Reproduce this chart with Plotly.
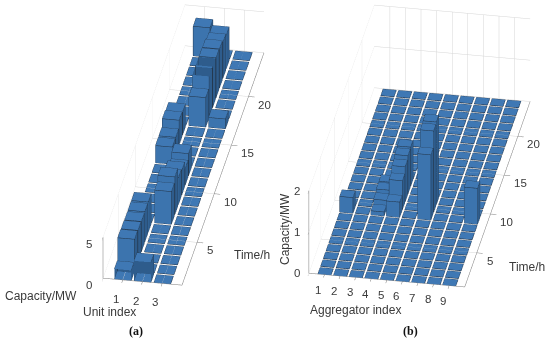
import math
import plotly.graph_objects as go

hours = list(range(1, 25))
units = [1, 2, 3]
aggregators = list(range(1, 10))

# Capacity (MW) per unit, one value per hour
unit_1 = [1.25, 3.9, 3.8, 3.7, 3.7, 3.7, 0, 0, 0, 0, 0, 0, 2.1, 2.1, 3.0, 2.8, 0, 0, 0, 0, 0, 0, 0, 3.6]
unit_2 = [2.45, 0, 0, 0, 0, 0, 4.0, 4.6, 3.3, 3.0, 2.05, 2.7, 0, 0, 0, 0, 3.6, 5.05, 5.05, 4.9, 4.8, 4.4, 4.1, 0]
unit_3 = [0, 0, 0, 0, 0, 0, 0, 0, 0, 0, 0, 0, 0, 0, 0, 0, 1.2, 0, 0, 0, 0, 0, 0, 0]

# Capacity (MW) per aggregator, one value per hour
agg_1 = [0, 0, 0, 0, 0, 0, 0, 0, 0.38, 0, 0, 0, 0, 0, 0, 0, 0, 0, 0, 0, 0, 0, 0, 0]
agg_2 = [0] * 24
agg_3 = [0, 0, 0, 0, 0, 0, 0, 0, 0.1, 0.19, 0.25, 0.25, 0, 0, 0, 0, 0, 0, 0, 0, 0, 0, 0, 0]
agg_4 = [0, 0, 0, 0, 0, 0, 0, 0, 0.37, 0.7, 0.85, 0.93, 0.95, 0, 0, 0, 0, 0, 0, 0, 0, 0, 0, 0]
agg_5 = [0] * 24
agg_6 = [0, 0, 0, 0, 0, 0, 0, 0, 1.58, 1.97, 2.0, 0, 0, 0, 0, 0, 0, 0, 0, 0, 0, 0, 0, 0]
agg_7 = [0] * 24
agg_8 = [0] * 24
agg_9 = [0, 0, 0, 0, 0, 0, 0, 0, 0.87, 0, 0, 0, 0, 0, 0, 0, 0, 0, 0, 0, 0, 0, 0, 0]

time_ticks = [5, 10, 15, 20]
unit_ticks = [1, 2, 3]
agg_ticks = [1, 2, 3, 4, 5, 6, 7, 8, 9]
z_ticks_a = [0, 5]
z_ticks_b = [0, 1, 2]

TOP = "#3f78b4"
FRONT = "#3c74ae"
SIDE = "#2e5c8c"
EDGE = "#1f2d3d"
TXT = "#3a3a3a"
W = 0.425
H = 0.425


def bars(cols, xvals, scene):
    vx, vy, vz, ii, jj, kk, fc = [], [], [], [], [], [], []
    lx, ly, lz = [], [], []
    quads = [((0, 1, 2, 3), TOP), ((4, 5, 6, 7), TOP), ((0, 1, 5, 4), FRONT),
             ((1, 2, 6, 5), SIDE), ((2, 3, 7, 6), SIDE), ((3, 0, 4, 7), SIDE)]
    for x, col in zip(xvals, cols):
        for y, h in zip(hours, col):
            n = len(vx)
            z0, z1 = 0, max(h, 0.002)
            for zz in (z0, z1):
                for dx, dy in ((-W, -H), (W, -H), (W, H), (-W, H)):
                    vx.append(x + dx)
                    vy.append(y + dy)
                    vz.append(zz)
            for (a, b, c, d), color in quads:
                ii += [n + a, n + a]
                jj += [n + b, n + c]
                kk += [n + c, n + d]
                fc += [color, color]
            for loop in ((0, 1, 2, 3, 0), (4, 5, 6, 7, 4)):
                for p in loop:
                    lx.append(vx[n + p]); ly.append(vy[n + p]); lz.append(vz[n + p])
                lx.append(None); ly.append(None); lz.append(None)
            for p in range(4):
                for q in (p, p + 4):
                    lx.append(vx[n + q]); ly.append(vy[n + q]); lz.append(vz[n + q])
                lx.append(None); ly.append(None); lz.append(None)
    return [
        go.Mesh3d(x=vx, y=vy, z=vz, i=ii, j=jj, k=kk, facecolor=fc, flatshading=True,
                  lighting=dict(ambient=1, diffuse=0, specular=0, fresnel=0),
                  hoverinfo="skip", showscale=False, scene=scene),
        go.Scatter3d(x=lx, y=ly, z=lz, mode="lines", line=dict(color=EDGE, width=1),
                     hoverinfo="skip", showlegend=False, scene=scene),
    ]


def axis(rng, tickvals, ticklen=6):
    return dict(range=rng, tickmode="array", tickvals=tickvals, showticklabels=False,
                ticks="outside", ticklen=ticklen, tickcolor="#7a7a7a", showgrid=True,
                gridcolor="#d6d6d6", gridwidth=1, zeroline=False, showline=True,
                linecolor="#7a7a7a", linewidth=1, showbackground=False, showspikes=False,
                title=dict(text=""))


def tick_notes(xt, yt, zt, xr, yr, zr, xshift_x, yshift_x, zs):
    out = []
    base = dict(showarrow=False, font=dict(family="Liberation Sans", size=11.5, color=TXT))
    for v in xt:
        out.append(dict(x=v, y=yr[0], z=0, text=str(v), xshift=xshift_x, yshift=yshift_x, **base))
    for v in yt:
        out.append(dict(x=xr[1], y=v, z=0, text=str(v), xshift=13 if v < 10 else 16, yshift=-8, **base))
    for v in zt:
        out.append(dict(x=xr[0], y=yr[0], z=v, text=str(v), xshift=zs[0], yshift=zs[1], **base))
    return out


def camera(d, cx=0.0, cz=0.0):
    a, p = math.radians(10), math.radians(30)
    return dict(eye=dict(x=cx + d * math.sin(a) * math.cos(p), y=-d * math.cos(a) * math.cos(p), z=cz + d * math.sin(p)),
                up=dict(x=0, y=0, z=1), center=dict(x=cx, y=0, z=cz),
                projection=dict(type="orthographic"))


xr_a, yr, zr_a = [0, 4], [0.6, 24.5], [0, 5]
xr_b, zr_b = [0, 10], [0, 2]

fig = go.Figure()
for t in bars([unit_1, unit_2, unit_3], units, "scene"):
    fig.add_trace(t)
for t in bars([agg_1, agg_2, agg_3, agg_4, agg_5, agg_6, agg_7, agg_8, agg_9], aggregators, "scene2"):
    fig.add_trace(t)

W_PX, H_PX = 550, 341


def note(x, y, text, size=12, **kw):
    return dict(x=x / W_PX, y=1 - y / H_PX, xref="paper", yref="paper", text=text, showarrow=False,
                xanchor="center", yanchor="middle",
                font=dict(family=kw.pop("family", "Liberation Sans"), size=size, color=kw.pop("color", TXT)), **kw)


fig.update_layout(
    width=W_PX, height=H_PX, margin=dict(l=0, r=0, t=0, b=0), paper_bgcolor="white", showlegend=False,
    scene=dict(
        domain=dict(x=[0, 367 / W_PX], y=[1 - 290 / H_PX, 1]),
        xaxis=axis(xr_a, unit_ticks), yaxis=axis(yr, time_ticks), zaxis=axis(zr_a, z_ticks_a),
        aspectmode="manual", aspectratio=dict(x=0.553, y=3.255, z=0.326), camera=camera(2.0, 0.0, 0.0),
        annotations=tick_notes(unit_ticks, time_ticks, z_ticks_a, xr_a, yr, zr_a, -7, -19, (-14, -7)),
    ),
    scene2=dict(
        domain=dict(x=[287 / W_PX, 1], y=[1 - 296 / H_PX, 1]),
        xaxis=axis(xr_b, agg_ticks), yaxis=axis(yr, time_ticks), zaxis=axis(zr_b, z_ticks_b),
        aspectmode="manual", aspectratio=dict(x=1.069, y=2.545, z=0.645), camera=camera(2.0, -0.007, -0.016),
        annotations=tick_notes(agg_ticks, time_ticks, z_ticks_b, xr_b, yr, zr_b, -6, -15, (-12, 0)),
    ),
    annotations=[
        note(41, 296, "Capacity/MW"),
        note(109, 312, "Unit index"),
        note(252, 255, "Time/h"),
        note(136, 331, "<b>(a)</b>", family="Liberation Serif", color="#111111"),
        note(285, 229, "Capacity/MW", textangle=-90),
        note(355, 310, "Aggregator index"),
        note(527, 267, "Time/h"),
        note(410, 331, "<b>(b)</b>", family="Liberation Serif", color="#111111"),
    ],
)
fig.write_html("out.html", config=dict(displayModeBar=False),
               post_script="document.body.style.margin='0';")
